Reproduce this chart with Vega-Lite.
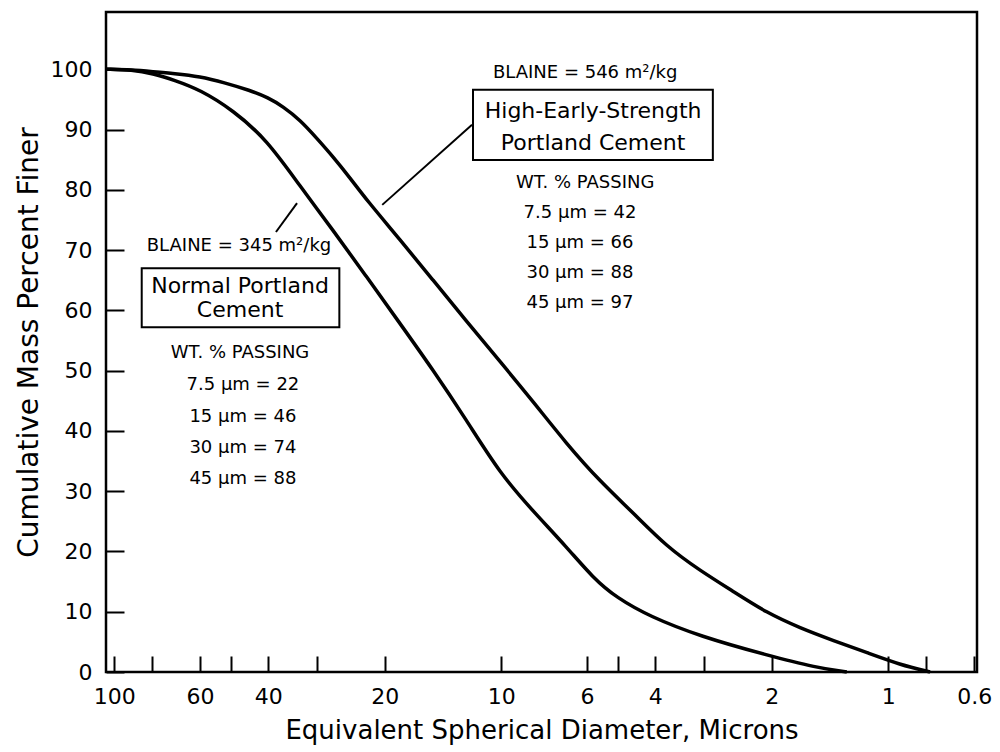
{
  "$schema": "https://vega.github.io/schema/vega-lite/v6.json",
  "width": 871,
  "height": 660,
  "autosize": {"type": "none"},
  "padding": {"left": 106, "top": 12, "right": 23, "bottom": 80},
  "background": "white",
  "config": {
    "view": {"stroke": "black", "strokeWidth": 2.5},
    "font": "DejaVu Sans",
    "axis": {
      "grid": false,
      "domain": false,
      "labelFont": "DejaVu Sans",
      "titleFont": "DejaVu Sans",
      "labelColor": "black",
      "titleColor": "black",
      "tickColor": "black",
      "titleFontWeight": "normal"
    }
  },
  "datasets": {
    "curves": [
      {"series": "High-Early-Strength", "d": 105, "p": 100},
      {"series": "High-Early-Strength", "d": 90, "p": 99.9},
      {"series": "High-Early-Strength", "d": 79.4, "p": 99.6},
      {"series": "High-Early-Strength", "d": 70, "p": 99.3},
      {"series": "High-Early-Strength", "d": 60, "p": 98.8},
      {"series": "High-Early-Strength", "d": 52, "p": 97.8},
      {"series": "High-Early-Strength", "d": 44.6, "p": 96.5},
      {"series": "High-Early-Strength", "d": 40, "p": 95.3},
      {"series": "High-Early-Strength", "d": 36.6, "p": 93.8},
      {"series": "High-Early-Strength", "d": 33.1, "p": 91.6},
      {"series": "High-Early-Strength", "d": 30, "p": 88.6},
      {"series": "High-Early-Strength", "d": 27.2, "p": 85.5},
      {"series": "High-Early-Strength", "d": 24.6, "p": 82.0},
      {"series": "High-Early-Strength", "d": 22.2, "p": 78.2},
      {"series": "High-Early-Strength", "d": 18.3, "p": 71.8},
      {"series": "High-Early-Strength", "d": 15, "p": 65.0},
      {"series": "High-Early-Strength", "d": 12.3, "p": 58.2},
      {"series": "High-Early-Strength", "d": 10.07, "p": 51.5},
      {"series": "High-Early-Strength", "d": 8.28, "p": 44.9},
      {"series": "High-Early-Strength", "d": 6.77, "p": 37.8},
      {"series": "High-Early-Strength", "d": 5.55, "p": 31.6},
      {"series": "High-Early-Strength", "d": 4.56, "p": 26.4},
      {"series": "High-Early-Strength", "d": 3.74, "p": 20.8},
      {"series": "High-Early-Strength", "d": 3.06, "p": 16.8},
      {"series": "High-Early-Strength", "d": 2.52, "p": 13.4},
      {"series": "High-Early-Strength", "d": 2.06, "p": 9.8},
      {"series": "High-Early-Strength", "d": 1.69, "p": 7.3},
      {"series": "High-Early-Strength", "d": 1.385, "p": 5.2},
      {"series": "High-Early-Strength", "d": 1.134, "p": 3.2},
      {"series": "High-Early-Strength", "d": 0.932, "p": 1.2},
      {"series": "High-Early-Strength", "d": 0.78, "p": 0},
      {"series": "Normal", "d": 105, "p": 100},
      {"series": "Normal", "d": 90, "p": 99.9},
      {"series": "Normal", "d": 79.4, "p": 99.3},
      {"series": "Normal", "d": 70, "p": 98.2},
      {"series": "Normal", "d": 60, "p": 96.6},
      {"series": "Normal", "d": 49.3, "p": 93.2},
      {"series": "Normal", "d": 40.3, "p": 88.3},
      {"series": "Normal", "d": 33.1, "p": 80.6},
      {"series": "Normal", "d": 27.2, "p": 73.3},
      {"series": "Normal", "d": 22.3, "p": 65.6},
      {"series": "Normal", "d": 18.3, "p": 57.9},
      {"series": "Normal", "d": 15, "p": 50.1},
      {"series": "Normal", "d": 12.3, "p": 41.8},
      {"series": "Normal", "d": 10.07, "p": 32.9},
      {"series": "Normal", "d": 8.28, "p": 26.7},
      {"series": "Normal", "d": 6.77, "p": 20.7},
      {"series": "Normal", "d": 5.79, "p": 15.6},
      {"series": "Normal", "d": 5.03, "p": 12.3},
      {"series": "Normal", "d": 4.13, "p": 9.2},
      {"series": "Normal", "d": 3.06, "p": 5.9},
      {"series": "Normal", "d": 2.06, "p": 2.8},
      {"series": "Normal", "d": 1.53, "p": 0.7},
      {"series": "Normal", "d": 1.28, "p": 0}
    ],
    "yticks": [
      {"p": 10}, {"p": 20}, {"p": 30}, {"p": 40}, {"p": 50},
      {"p": 60}, {"p": 70}, {"p": 80}, {"p": 90}, {"p": 100}
    ],
    "boxes": [
      {"d": 11.83, "d2": 2.84, "p": 96.6, "p2": 84.95},
      {"d": 84.9, "d2": 26.2, "p": 67.0, "p2": 57.2}
    ],
    "leaders": [
      {"d": 20.3, "d2": 11.9, "p": 77.5, "p2": 90.8},
      {"d": 33.7, "d2": 38.2, "p": 77.8, "p2": 73.0}
    ],
    "blaine": [
      {"t": "BLAINE = 546 m²/kg", "d": 6.07, "p": 99.4},
      {"t": "BLAINE = 345 m²/kg", "d": 47.6, "p": 70.6}
    ],
    "titles": [
      {"t": "High-Early-Strength", "d": 5.79, "p": 93.1},
      {"t": "Portland Cement", "d": 5.79, "p": 87.8},
      {"t": "Normal Portland", "d": 47.3, "p": 64.0},
      {"t": "Cement", "d": 47.3, "p": 60.0}
    ],
    "passing": [
      {"t": "WT. % PASSING", "d": 6.07, "p": 81.1},
      {"t": "7.5 µm = 42", "d": 6.26, "p": 76.2},
      {"t": "15 µm = 66", "d": 6.26, "p": 71.2},
      {"t": "30 µm = 88", "d": 6.26, "p": 66.2},
      {"t": "45 µm = 97", "d": 6.26, "p": 61.2},
      {"t": "WT. % PASSING", "d": 47.3, "p": 53.0},
      {"t": "7.5 µm = 22", "d": 46.5, "p": 47.6},
      {"t": "15 µm = 46", "d": 46.5, "p": 42.3},
      {"t": "30 µm = 74", "d": 46.5, "p": 37.2},
      {"t": "45 µm = 88", "d": 46.5, "p": 32.0}
    ]
  },
  "encoding": {
    "x": {
      "field": "d",
      "type": "quantitative",
      "scale": {"type": "log", "domain": [0.59, 105], "reverse": true, "nice": false},
      "axis": {
        "orient": "bottom",
        "values": [100, 80, 60, 50, 40, 30, 20, 10, 6, 5, 4, 3, 2, 1, 0.8, 0.6],
        "labelExpr": "indexof([100, 60, 40, 20, 10, 6, 4, 2, 1, 0.6], datum.value) >= 0 ? format(datum.value, '~g') : ''",
        "tickSize": -16,
        "tickWidth": 2,
        "labelFontSize": 22,
        "labelPadding": 30,
        "labelOverlap": false,
        "labelBound": false,
        "labelFlush": false,
        "title": "Equivalent Spherical Diameter, Microns",
        "titleFontSize": 26,
        "titlePadding": 10
      }
    },
    "y": {
      "field": "p",
      "type": "quantitative",
      "scale": {"domain": [0, 109.5], "nice": false, "zero": false},
      "axis": {
        "orient": "left",
        "values": [0, 10, 20, 30, 40, 50, 60, 70, 80, 90, 100],
        "ticks": true,
        "tickSize": -18,
        "tickWidth": 2,
        "labelFontSize": 22,
        "labelPadding": 32,
        "title": "Cumulative Mass Percent Finer",
        "titleFontSize": 28,
        "titlePadding": 7
      }
    }
  },
  "layer": [
    {
      "data": {"name": "yticks"},
      "mark": {"type": "rule", "color": "black", "strokeWidth": 2.5},
      "encoding": {
        "x": {"datum": 105, "type": "quantitative"},
        "x2": {"datum": 94.2}
      }
    },
    {
      "data": {"name": "curves"},
      "mark": {"type": "line", "color": "black", "strokeWidth": 3.5, "interpolate": "basis"},
      "encoding": {"detail": {"field": "series"}}
    },
    {
      "data": {"name": "leaders"},
      "mark": {"type": "rule", "color": "black", "strokeWidth": 2},
      "encoding": {"x2": {"field": "d2"}, "y2": {"field": "p2"}}
    },
    {
      "data": {"name": "boxes"},
      "mark": {"type": "rect", "fill": "white", "stroke": "black", "strokeWidth": 2},
      "encoding": {"x2": {"field": "d2"}, "y2": {"field": "p2"}}
    },
    {
      "data": {"name": "blaine"},
      "mark": {"type": "text", "font": "DejaVu Sans", "fontSize": 18, "color": "black", "align": "center", "baseline": "middle"},
      "encoding": {"text": {"field": "t"}}
    },
    {
      "data": {"name": "titles"},
      "mark": {"type": "text", "font": "DejaVu Sans", "fontSize": 22, "color": "black", "align": "center", "baseline": "middle"},
      "encoding": {"text": {"field": "t"}}
    },
    {
      "data": {"name": "passing"},
      "mark": {"type": "text", "font": "DejaVu Sans", "fontSize": 18, "color": "black", "align": "center", "baseline": "middle"},
      "encoding": {"text": {"field": "t"}}
    }
  ]
}
